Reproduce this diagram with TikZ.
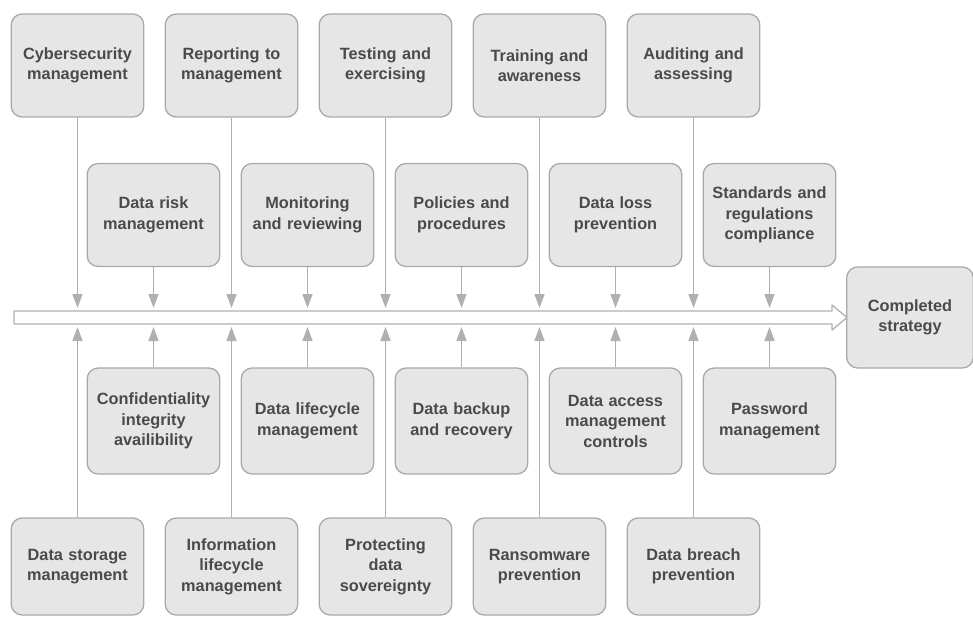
\documentclass[tikz,border=0pt]{standalone}
\usepackage{fontspec}
\setmainfont{Liberation Sans}
\usepackage{xcolor}
\usetikzlibrary{positioning,arrows.meta}
\definecolor{boxfill}{HTML}{E6E6E6}
\definecolor{boxline}{HTML}{A9A9A9}
\definecolor{boxtext}{HTML}{4A4A4A}
\definecolor{linkgray}{HTML}{B0B0B0}

\begin{document}
\begin{tikzpicture}[x=1pt,y=-1pt,node distance=154pt,on grid,
    box/.style={draw=boxline,fill=boxfill,line width=1.3pt,rounded corners=11pt,
      minimum width=130pt,minimum height=103pt,text width=126pt,align=center,
      text=boxtext,font=\fontsize{16.3}{20.5}\selectfont\bfseries},
    lnk/.style={draw=linkgray,line width=1.5pt,-{Triangle[length=14pt,width=10pt]}}]
   \useasboundingbox (0,0) rectangle (973,617);
   % top row
   \node[box] (t_1) at (77.5,65.5) {Cybersecurity\\management};
   \node[box] (t_2) [right=of t_1] {Reporting to\\management};
   \node[box] (t_3) [right=of t_2] {Testing and\\exercising};
   \node[box] (t_4) [right=of t_3] {Training and\\awareness};
   \node[box] (t_5) [right=of t_4] {Auditing and\\assessing};
   % second row, above the spine
   \node[box] (u_1) at (153.5,215) {Data risk\\management};
   \node[box] (u_2) [right=of u_1] {Monitoring\\and reviewing};
   \node[box] (u_3) [right=of u_2] {Policies and\\procedures};
   \node[box] (u_4) [right=of u_3] {Data loss\\prevention};
   \node[box] (u_5) [right=of u_4] {Standards and\\regulations\\compliance};
   % third row, below the spine
   \node[box,minimum height=106pt] (l_1) at (153.5,421) {Confidentiality\\integrity\\availibility};
   \node[box,minimum height=106pt] (l_2) [right=of l_1] {Data lifecycle\\management};
   \node[box,minimum height=106pt] (l_3) [right=of l_2] {Data backup\\and recovery};
   \node[box,minimum height=106pt] (l_4) [right=of l_3] {Data access\\management\\controls};
   \node[box,minimum height=106pt] (l_5) [right=of l_4] {Password\\management};
   % bottom row
   \node[box,minimum height=97pt] (b_1) at (77.5,566.5) {Data storage\\management};
   \node[box,minimum height=97pt] (b_2) [right=of b_1] {Information\\lifecycle\\management};
   \node[box,minimum height=97pt] (b_3) [right=of b_2] {Protecting\\data\\sovereignty};
   \node[box,minimum height=97pt] (b_4) [right=of b_3] {Ransomware\\prevention};
   \node[box,minimum height=97pt] (b_5) [right=of b_4] {Data breach\\prevention};
   \node[box,minimum width=125pt,minimum height=101pt,text width=120pt] (done) at (910,317.5) {Completed\\strategy};
   % the spine
   \draw[linkgray,fill=white,line width=1.3pt,line join=round]
     (14,311) -- (832,311) -- (832,305) -- (847,317.5) -- (832,330)
     -- (832,324) -- (14,324) -- cycle;
   \coordinate (s_top) at (0,308);
   \coordinate (s_bot) at (0,327);
    \path
    (t_1) edge[lnk] (t_1 |- s_top)
    (t_2) edge[lnk] (t_2 |- s_top)
    (t_3) edge[lnk] (t_3 |- s_top)
    (t_4) edge[lnk] (t_4 |- s_top)
    (t_5) edge[lnk] (t_5 |- s_top)
    (u_1) edge[lnk] (u_1 |- s_top)
    (u_2) edge[lnk] (u_2 |- s_top)
    (u_3) edge[lnk] (u_3 |- s_top)
    (u_4) edge[lnk] (u_4 |- s_top)
    (u_5) edge[lnk] (u_5 |- s_top)
    (l_1) edge[lnk] (l_1 |- s_bot)
    (l_2) edge[lnk] (l_2 |- s_bot)
    (l_3) edge[lnk] (l_3 |- s_bot)
    (l_4) edge[lnk] (l_4 |- s_bot)
    (l_5) edge[lnk] (l_5 |- s_bot)
    (b_1) edge[lnk] (b_1 |- s_bot)
    (b_2) edge[lnk] (b_2 |- s_bot)
    (b_3) edge[lnk] (b_3 |- s_bot)
    (b_4) edge[lnk] (b_4 |- s_bot)
    (b_5) edge[lnk] (b_5 |- s_bot);
\end{tikzpicture}
\end{document}
